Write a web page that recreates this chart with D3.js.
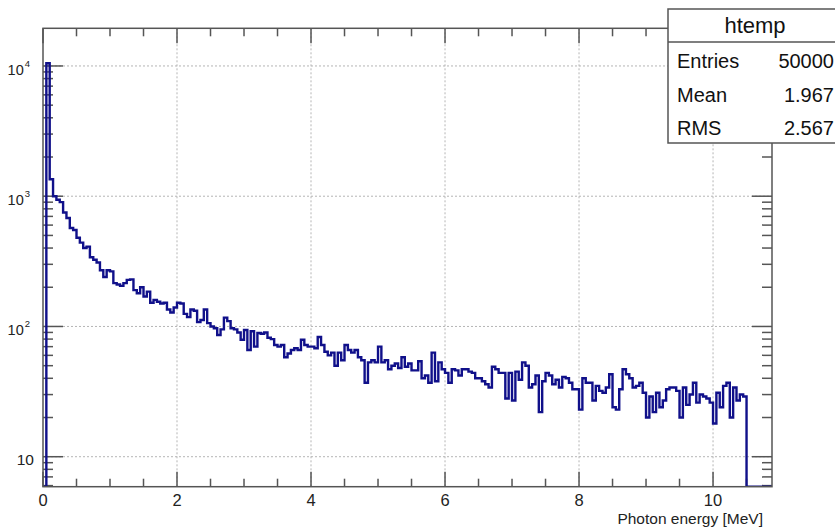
<!DOCTYPE html>
<html>
<head>
<meta charset="utf-8">
<script src="https://cdn.jsdelivr.net/npm/d3@7"></script>
<style>
  html, body { margin: 0; padding: 0; background: #fff; }
  svg { display: block; font-family: "Liberation Sans", Arial, sans-serif; }
</style>
</head>
<body>
<script>
// histogram contents, 0.05 MeV bins starting at 0
const binLow = 0;
const binWidth = 0.05;
const counts = [
    0, 10500, 1350, 1000, 940, 900, 750, 680, 570, 550,
    480, 440, 400, 410, 340, 325, 310, 270, 240, 270,
    265, 215, 210, 205, 215, 228, 230, 190, 180, 200,
    170, 185, 152, 160, 155, 150, 152, 135, 128, 140,
    152, 150, 125, 118, 135, 132, 108, 112, 135, 106,
    100, 97, 86, 95, 117, 110, 97, 95, 90, 79,
    94, 66, 92, 70, 89, 88, 90, 82, 80, 72,
    70, 72, 58, 62, 66, 68, 66, 79, 72, 70,
    70, 68, 83, 72, 64, 60, 63, 50, 63, 55,
    72, 66, 63, 66, 58, 55, 37, 53, 55, 53,
    70, 53, 55, 47, 50, 52, 48, 58, 49, 52,
    46, 46, 54, 40, 42, 37, 63, 38, 53, 47,
    44, 37, 47, 46, 42, 47, 47, 45, 44, 40,
    40, 38, 36, 34, 49, 47, 44, 44, 28, 44,
    27, 45, 39, 53, 50, 34, 36, 42, 22, 38,
    44, 42, 36, 39, 34, 41, 40, 37, 33, 33,
    23, 40, 37, 37, 27, 35, 32, 31, 34, 43,
    24, 23, 33, 47, 43, 40, 34, 35, 37, 31,
    20, 29, 22, 31, 24, 27, 33, 34, 34, 32,
    20, 34, 25, 30, 37, 26, 30, 29, 28, 26,
    18, 31, 24, 35, 37, 20, 34, 27, 30, 29,
    0, 0, 0, 0, 0, 0, 0, 0
];
const xDomain = [0, 10.88];
const yDomain = [5.886, 19460];
const xMajorTicks = [0, 2, 4, 6, 8, 10];
const xMinorTicks = [0.5, 1, 1.5, 2.5, 3, 3.5, 4.5, 5, 5.5, 6.5, 7, 7.5, 8.5, 9, 9.5, 10.5];
const yMajorTicks = [10, 100, 1000, 10000];
const yMajorLabels = [["10", ""], ["10", "2"], ["10", "3"], ["10", "4"]];
const xTitle = "Photon energy [MeV]";
const statsTitle = "htemp";
const statsNames = ["Entries", "Mean", "RMS"];
const statsValues = ["50000", "1.967", "2.567"];

const width = 835, height = 531;
const frame = { left: 43, right: 772, top: 28.3, bottom: 486.7 };
const lineColor = "#10108a";
const frameColor = "#555";

const svg = d3.select("body").append("svg")
    .attr("width", width)
    .attr("height", height);

const x = d3.scaleLinear().domain(xDomain).range([frame.left, frame.right]);
const y = d3.scaleLog().domain(yDomain).range([frame.bottom, frame.top]);

// y minor ticks: 2..9 times each decade inside the range
const yMinorTicks = [];
[1, 10, 100, 1000, 10000].forEach(dec => {
    for (let k = 2; k <= 9; k++) {
        const v = dec * k;
        if (v > yDomain[0] && v < yDomain[1]) yMinorTicks.push(v);
    }
});

// grid
const grid = svg.append("g").attr("class", "grid")
    .attr("stroke", "#b5b5b5")
    .attr("stroke-width", 1)
    .attr("stroke-dasharray", "2,2");
grid.selectAll("line.gx")
    .data(xMajorTicks.filter(d => d > 0))
    .join("line")
    .attr("class", "gx")
    .attr("x1", d => x(d)).attr("x2", d => x(d))
    .attr("y1", frame.top).attr("y2", frame.bottom);
grid.selectAll("line.gy")
    .data(yMajorTicks)
    .join("line")
    .attr("class", "gy")
    .attr("x1", frame.left).attr("x2", frame.right)
    .attr("y1", d => y(d)).attr("y2", d => y(d));

// ticks on all four sides, pointing inward
const ticks = svg.append("g").attr("stroke", frameColor).attr("stroke-width", 1.5);
function xTicks(data, len, cls) {
    ticks.selectAll("line.b" + cls).data(data).join("line")
        .attr("class", "b" + cls)
        .attr("x1", d => x(d)).attr("x2", d => x(d))
        .attr("y1", frame.bottom).attr("y2", frame.bottom - len);
    ticks.selectAll("line.t" + cls).data(data).join("line")
        .attr("class", "t" + cls)
        .attr("x1", d => x(d)).attr("x2", d => x(d))
        .attr("y1", frame.top).attr("y2", frame.top + len);
}
function yTicks(data, len, cls) {
    ticks.selectAll("line.l" + cls).data(data).join("line")
        .attr("class", "l" + cls)
        .attr("x1", frame.left).attr("x2", frame.left + len)
        .attr("y1", d => y(d)).attr("y2", d => y(d));
    ticks.selectAll("line.r" + cls).data(data).join("line")
        .attr("class", "r" + cls)
        .attr("x1", frame.right).attr("x2", frame.right - len)
        .attr("y1", d => y(d)).attr("y2", d => y(d));
}
xTicks(xMajorTicks, 15, "maj");
xTicks(xMinorTicks, 8, "min");
yTicks(yMajorTicks, 20, "maj");
yTicks(yMinorTicks, 10, "min");

// histogram as a step line
svg.append("clipPath").attr("id", "frameclip")
    .append("rect")
    .attr("x", frame.left).attr("y", frame.top - 4)
    .attr("width", frame.right - frame.left)
    .attr("height", frame.bottom - frame.top + 4);

const steps = counts.map((c, i) => [binLow + i * binWidth, c]);
steps.push([binLow + counts.length * binWidth, counts[counts.length - 1]]);

const histLine = d3.line()
    .x(d => x(d[0]))
    .y(d => d[1] <= yDomain[0] ? frame.bottom : y(d[1]))
    .curve(d3.curveStepAfter);

svg.append("path")
    .attr("clip-path", "url(#frameclip)")
    .attr("d", histLine(steps))
    .attr("fill", "none")
    .attr("stroke", lineColor)
    .attr("stroke-width", 2.4)
    .attr("stroke-linejoin", "miter");

// frame
svg.append("rect")
    .attr("x", frame.left).attr("y", frame.top)
    .attr("width", frame.right - frame.left)
    .attr("height", frame.bottom - frame.top)
    .attr("fill", "none")
    .attr("stroke", frameColor)
    .attr("stroke-width", 1.5);

// x labels
svg.selectAll("text.xl").data(xMajorTicks).join("text")
    .attr("class", "xl")
    .attr("x", d => x(d))
    .attr("y", 506)
    .attr("text-anchor", "middle")
    .attr("font-size", 16.5)
    .attr("fill", "#222")
    .text(d => d);

// y labels (10, 10^2 ...)
const yl = svg.selectAll("text.yl").data(yMajorTicks).join("text")
    .attr("class", "yl")
    .attr("x", 34)
    .attr("y", d => y(d) + 8)
    .attr("text-anchor", "end")
    .attr("font-size", 15.5)
    .attr("fill", "#222");
yl.each(function(d, i) {
    const t = d3.select(this);
    const [base, sup] = yMajorLabels[i];
    if (sup) {
        t.attr("x", 30).attr("y", y(d) + 9).attr("font-size", 14.5);
        t.append("tspan").text(base);
        t.append("tspan")
            .attr("font-size", 9.5)
            .attr("dy", -8)
            .attr("dx", 1)
            .text(sup);
    } else {
        t.text(base);
    }
});

svg.append("text")
    .attr("x", 763)
    .attr("y", 524)
    .attr("text-anchor", "end")
    .attr("font-size", 15.5)
    .attr("fill", "#222")
    .text(xTitle);

// stats box
const stats = svg.append("g");
stats.append("rect")
    .attr("x", 668).attr("y", 9)
    .attr("width", 180).attr("height", 134)
    .attr("fill", "#fff")
    .attr("stroke", frameColor)
    .attr("stroke-width", 1.5);
stats.append("line")
    .attr("x1", 668).attr("x2", 848)
    .attr("y1", 42).attr("y2", 42)
    .attr("stroke", frameColor)
    .attr("stroke-width", 1.5);
stats.append("text")
    .attr("x", 755).attr("y", 33)
    .attr("text-anchor", "middle")
    .attr("font-size", 22)
    .attr("fill", "#111")
    .text(statsTitle);
stats.selectAll("text.sn").data(statsNames).join("text")
    .attr("class", "sn")
    .attr("x", 677)
    .attr("y", (d, i) => 68 + i * 33.5)
    .attr("font-size", 20)
    .attr("fill", "#111")
    .text(d => d);
stats.selectAll("text.sv").data(statsValues).join("text")
    .attr("class", "sv")
    .attr("x", 834)
    .attr("y", (d, i) => 68 + i * 33.5)
    .attr("text-anchor", "end")
    .attr("font-size", 20)
    .attr("fill", "#111")
    .text(d => d);
</script>
</body>
</html>
